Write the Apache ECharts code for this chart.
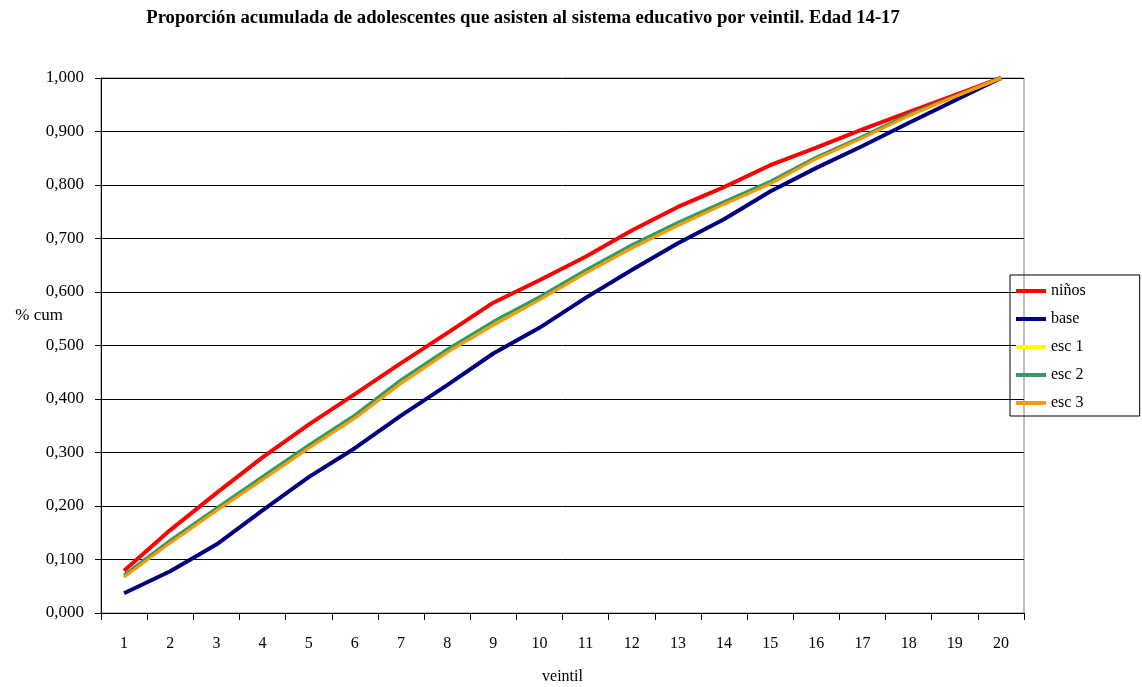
<!DOCTYPE html>
<html><head><meta charset="utf-8">
<script src="https://cdn.jsdelivr.net/npm/echarts@6/dist/echarts.min.js"></script>
<style>html,body{margin:0;padding:0;background:#fff}#c{width:1142px;height:687px}</style>
</head><body><div id="c"></div>
<script>
const categories = ['1','2','3','4','5','6','7','8','9','10','11','12','13','14','15','16','17','18','19','20'];
const ninos = [0.079,0.155,0.224,0.291,0.352,0.409,0.467,0.523,0.580,0.622,0.666,0.715,0.759,0.796,0.837,0.870,0.904,0.936,0.968,1.000];
const base  = [0.037,0.078,0.128,0.192,0.254,0.308,0.369,0.426,0.485,0.533,0.589,0.641,0.691,0.736,0.788,0.832,0.873,0.916,0.958,1.000];
const esc1  = [0.068,0.133,0.193,0.252,0.310,0.366,0.431,0.489,0.540,0.587,0.637,0.684,0.726,0.766,0.804,0.850,0.889,0.930,0.965,1.000];
const esc2  = [0.071,0.136,0.196,0.255,0.314,0.370,0.436,0.493,0.545,0.591,0.641,0.688,0.730,0.769,0.807,0.852,0.891,0.932,0.966,1.000];
const esc3  = [0.067,0.131,0.191,0.249,0.308,0.364,0.429,0.487,0.538,0.585,0.635,0.682,0.724,0.764,0.802,0.849,0.888,0.929,0.965,1.000];
const seriesNames = ['niños','base','esc 1','esc 2','esc 3'];
const colors = ['#FF0000','#000080','#FFFF00','#339966','#FF9900'];
const widths = [4,4,3,3,3];
const allData = [ninos, base, esc1, esc2, esc3];

const font = '"Liberation Serif","Times New Roman",serif';
const chart = echarts.init(document.getElementById('c'));
chart.setOption({
  animation:false,
  backgroundColor:'#fff',
  title:{text:'Proporción acumulada de adolescentes que asisten al sistema educativo por veintil. Edad 14-17',
    left:518, top:4, textAlign:'center',
    textStyle:{fontFamily:font,fontSize:18.7,fontWeight:'bold',color:'#000'}},
  grid:{left:101,right:118,top:78,bottom:74,containLabel:false,outerBoundsMode:'none',
    show:true,borderColor:'#808080',borderWidth:1},
  legend:{orient:'vertical',left:1010,top:275,
    data:seriesNames,
    icon:'rect',itemWidth:30,itemHeight:4,itemGap:12,
    padding:[8,54,5,6],
    borderColor:'#000',borderWidth:1,
    textStyle:{fontFamily:font,fontSize:16,color:'#000'}},
  xAxis:{type:'category',data:categories,boundaryGap:true,
    name:'veintil',nameLocation:'middle',nameGap:56,nameMoveOverlap:false,
    nameTextStyle:{fontFamily:font,fontSize:16,color:'#000'},
    axisLine:{lineStyle:{color:'#000',width:1}},
    axisTick:{show:true,length:7,lineStyle:{color:'#000'}},
    axisLabel:{fontFamily:font,fontSize:16,color:'#000',margin:23},
    splitLine:{show:false}},
  yAxis:{type:'value',min:0,max:1,interval:0.1,
    name:'% cum',nameLocation:'middle',nameGap:38,nameRotate:0,nameMoveOverlap:false,
    nameTextStyle:{fontFamily:font,fontSize:17,color:'#000',verticalAlign:'bottom',padding:[0,0,21,0]},
    axisLine:{show:true,lineStyle:{color:'#000',width:1}},
    axisTick:{show:true,length:6,lineStyle:{color:'#000'}},
    axisLabel:{fontFamily:font,fontSize:17,color:'#000',margin:17,
      formatter:v=>v.toFixed(3).replace('.',',')},
    splitLine:{show:true,lineStyle:{color:'#000',width:1}}},
  series: seriesNames.map((n,i)=>({
    name:n,type:'line',data:allData[i],symbol:'none',smooth:false,
    lineStyle:{color:colors[i],width:widths[i]},itemStyle:{color:colors[i]},z:2+i
  }))
});
</script></body></html>
